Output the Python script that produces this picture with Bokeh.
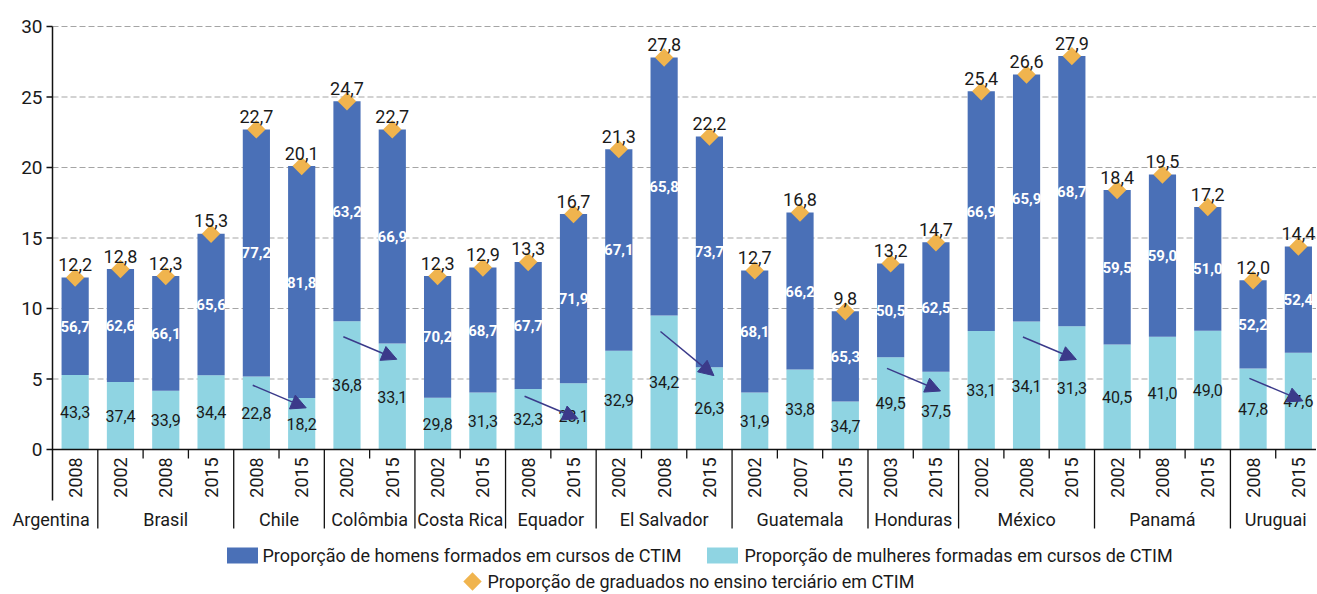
import numpy as np
from bokeh.plotting import figure
from bokeh.models import Range1d, Arrow, NormalHead
from bokeh.core.properties import value
from bokeh.embed import file_html
from bokeh.resources import INLINE

# ---------------- data ----------------
countries = ["Argentina", "Brasil", "Brasil", "Brasil", "Chile", "Chile",
             "Colômbia", "Colômbia", "Costa Rica", "Costa Rica", "Equador", "Equador",
             "El Salvador", "El Salvador", "El Salvador", "Guatemala", "Guatemala", "Guatemala",
             "Honduras", "Honduras", "México", "México", "México",
             "Panamá", "Panamá", "Panamá", "Uruguai", "Uruguai"]
years = ["2008", "2002", "2008", "2015", "2008", "2015", "2002", "2015", "2002", "2015",
         "2008", "2015", "2002", "2008", "2015", "2002", "2007", "2015", "2003", "2015",
         "2002", "2008", "2015", "2002", "2008", "2015", "2008", "2015"]
total_pct = [12.2, 12.8, 12.3, 15.3, 22.7, 20.1, 24.7, 22.7, 12.3, 12.9, 13.3, 16.7,
             21.3, 27.8, 22.2, 12.7, 16.8, 9.8, 13.2, 14.7, 25.4, 26.6, 27.9,
             18.4, 19.5, 17.2, 12.0, 14.4]
men_share = [56.7, 62.6, 66.1, 65.6, 77.2, 81.8, 63.2, 66.9, 70.2, 68.7, 67.7, 71.9,
             67.1, 65.8, 73.7, 68.1, 66.2, 65.3, 50.5, 62.5, 66.9, 65.9, 68.7,
             59.5, 59.0, 51.0, 52.2, 52.4]
women_share = [43.3, 37.4, 33.9, 34.4, 22.8, 18.2, 36.8, 33.1, 29.8, 31.3, 32.3, 28.1,
               32.9, 34.2, 26.3, 31.9, 33.8, 34.7, 49.5, 37.5, 33.1, 34.1, 31.3,
               40.5, 41.0, 49.0, 47.8, 47.6]
y_ticks = [0, 5, 10, 15, 20, 25, 30]
legend_labels = ["Proporção de homens formados em cursos de CTIM",
                 "Proporção de mulheres formadas em cursos de CTIM",
                 "Proporção de graduados no ensino terciário em CTIM"]

# ---------------- style ----------------
MEN = "#4A70B7"
WOMEN = "#8FD4E2"
ORANGE = "#F0B44E"
ARROW_C = "#3B3A8A"
TXT = "#1A1A1A"
AXC = "#111111"
FONT = value("Roboto")

def fmt(v):
    return f"{v:.1f}".replace(".", ",")

W, H = 1316, 593
LEFT = 52                      # px from the left edge to the value axis
XEND = 27.9
S = (W - LEFT) / XEND          # px per x unit
PXY = 14.1                     # px per y unit, zero line at 449 px

n = len(total_pct)
x = np.arange(n) + 0.5
tot = np.array(total_pct)
women_h = tot * np.array(women_share) / 100.0

p = figure(width=W, height=H, x_range=Range1d(-LEFT / S, XEND),
           y_range=Range1d(-(H - 449) / PXY, 449 / PXY), output_backend="svg",
           toolbar_location=None, x_axis_location=None, y_axis_location=None,
           min_border_left=0, min_border_right=0, min_border_top=0, min_border_bottom=0)
p.outline_line_color = None
p.grid.visible = False

def xd(px):
    return (px - LEFT) / S

def yd(py):
    return (449 - py) / PXY

# value axis: grid, ticks, labels, line
grid_y = [t for t in y_ticks if t > 0]
p.segment(x0=[0] * len(grid_y), y0=grid_y, x1=[XEND] * len(grid_y), y1=grid_y,
          line_color="#A5A5A5", line_dash="6 3", line_width=1)
p.segment(x0=[-6 / S] * len(y_ticks), y0=y_ticks, x1=[0] * len(y_ticks), y1=y_ticks,
          line_color=AXC, line_width=1.3)
p.text(x=[-10 / S] * len(y_ticks), y=y_ticks, text=[str(t) for t in y_ticks],
       text_align="right", text_baseline="middle", text_color=TXT,
       text_font=FONT, text_font_size="19px")

# bars
p.vbar(x=x, width=0.6, bottom=0, top=women_h, fill_color=WOMEN, line_color=None)
p.vbar(x=x, width=0.6, bottom=women_h, top=tot, fill_color=MEN, line_color=None)

# axis line and baseline
p.segment(x0=[0], y0=[yd(500)], x1=[0], y1=[30], line_color=AXC, line_width=1.5)
p.segment(x0=[0], y0=[0], x1=[n], y1=[0], line_color=AXC, line_width=1.5)

# segment labels
p.text(x=x, y=(women_h + tot) / 2, text=[fmt(v) for v in men_share],
       text_align="center", text_baseline="middle", text_color="white",
       text_font=FONT, text_font_size="15px", text_font_style="bold")
p.text(x=x, y=women_h / 2, text=[fmt(v) for v in women_share],
       text_align="center", text_baseline="middle", text_color=TXT,
       text_font=FONT, text_font_size="16px")

# total markers and labels
p.scatter(x=x, y=tot, marker="square", size=13, angle=np.pi / 4,
          fill_color=ORANGE, line_color=None)
p.text(x=x, y=tot + 0.92, text=[fmt(v) for v in total_pct],
       text_align="center", text_baseline="alphabetic", text_color=TXT,
       text_font=FONT, text_font_size="18px")

# groups
groups = []
for i, c in enumerate(countries):
    if not groups or groups[-1][0] != c:
        groups.append([c, i, i + 1])
    else:
        groups[-1][2] = i + 1

# year labels
p.text(x=x, y=[yd(477)] * n, text=years, angle=np.pi / 2, text_align="center",
       text_baseline="middle", text_color=TXT, text_font=FONT, text_font_size="18px")

# separators and ticks
group_starts = [g[1] for g in groups[1:]]
p.segment(x0=group_starts, y0=[0] * len(group_starts), x1=group_starts,
          y1=[yd(528)] * len(group_starts), line_color=AXC, line_width=1.3)
inner = [i for i in range(1, n) if i not in group_starts]
p.segment(x0=inner, y0=[0] * len(inner), x1=inner, y1=[yd(458)] * len(inner),
          line_color=AXC, line_width=1.3)

# country labels
cy = yd(519)
for align in ("center", "right"):
    gx, gt = [], []
    for c, s, e in groups:
        single = (e - s == 1)
        if align == "right" and single:
            gx.append(e - 8 / S)
            gt.append(c)
        elif align == "center" and not single:
            gx.append((s + e) / 2)
            gt.append(c)
    p.text(x=gx, y=[cy] * len(gx), text=gt, text_align=align, text_baseline="middle",
           text_color=TXT, text_font=FONT, text_font_size="18px")

# arrows where women's share fell between the last two observations
for c, s, e in groups:
    if e - s >= 2 and women_share[e - 1] < women_share[e - 2]:
        ys = 0.88 * women_h[e - 2]
        ye = min(ys - 1.6, women_h[e - 1] - 0.6)
        p.add_layout(Arrow(x_start=x[e - 2] - 0.08, y_start=ys, x_end=x[e - 1] + 0.1, y_end=ye,
                           line_color=ARROW_C, line_width=1.5,
                           end=NormalHead(size=15, fill_color=ARROW_C, line_color=ARROW_C)))

# legend (manual, two rows)
row1 = yd(555)
row2 = yd(581)
p.rect(x=[xd(242), xd(722)], y=[row1, row1], width=31, height=16,
       width_units="screen", height_units="screen", fill_color=[MEN, WOMEN], line_color=None)
p.text(x=[xd(262), xd(744)], y=[row1, row1], text=legend_labels[:2], text_align="left",
       text_baseline="middle", text_color=TXT, text_font=FONT, text_font_size="18px")
p.scatter(x=[xd(472)], y=[row2], marker="square", size=13, angle=np.pi / 4,
          fill_color=ORANGE, line_color=None)
p.text(x=[xd(487)], y=[row2], text=[legend_labels[2]], text_align="left",
       text_baseline="middle", text_color=TXT, text_font=FONT, text_font_size="18px")

open("out.html", "w").write(file_html(p, INLINE))
